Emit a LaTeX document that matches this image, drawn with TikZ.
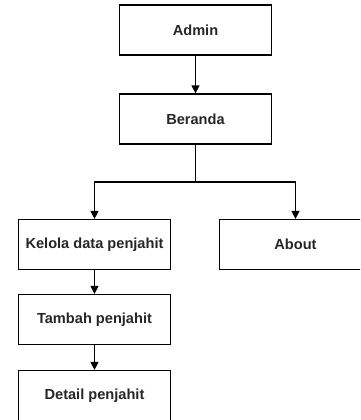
\documentclass[tikz,border=0pt]{standalone}
\usepackage{fontspec}
\setmainfont{Liberation Sans}
\usepackage{tikz}
\usetikzlibrary{arrows.meta}
\tikzstyle{box}=[draw, line width=1.2pt, minimum width=152pt, minimum height=50pt, inner sep=0pt, text=black!85, font=\fontsize{14.6}{18}\selectfont\bfseries]
\tikzstyle{arr}=[draw, line width=1.2pt, -{Triangle[length=8pt, width=8pt]}]

\begin{document}
\begin{tikzpicture}[x=1pt, y=-1pt]
        \clip (0, 0) rectangle (360, 420);
        \node[box] (admin)   at (195.5, 30)  {Admin};
        \node[box] (beranda) at (195.5, 119) {Beranda};
        \node[box] (kelola)  at (94.5, 244.5) {Kelola data penjahit};
        \node[box] (about)   at (295.5, 244.5) {About};
        \node[box] (tambah)  at (94.5, 319.5) {Tambah penjahit};
        \node[box] (detail)  at (94.5, 395.5) {Detail penjahit};
        \coordinate (split) at (195.5, 182);
        \draw[arr] (admin) -- (beranda);
        \draw[line width=1.2pt] (beranda) -- (split);
        \draw[arr] (split) -| (kelola);
        \draw[arr] (split) -| (about);
        \draw[arr] (kelola) -- (tambah);
        \draw[arr] (tambah) -- (detail);
    \end{tikzpicture}
\end{document}
